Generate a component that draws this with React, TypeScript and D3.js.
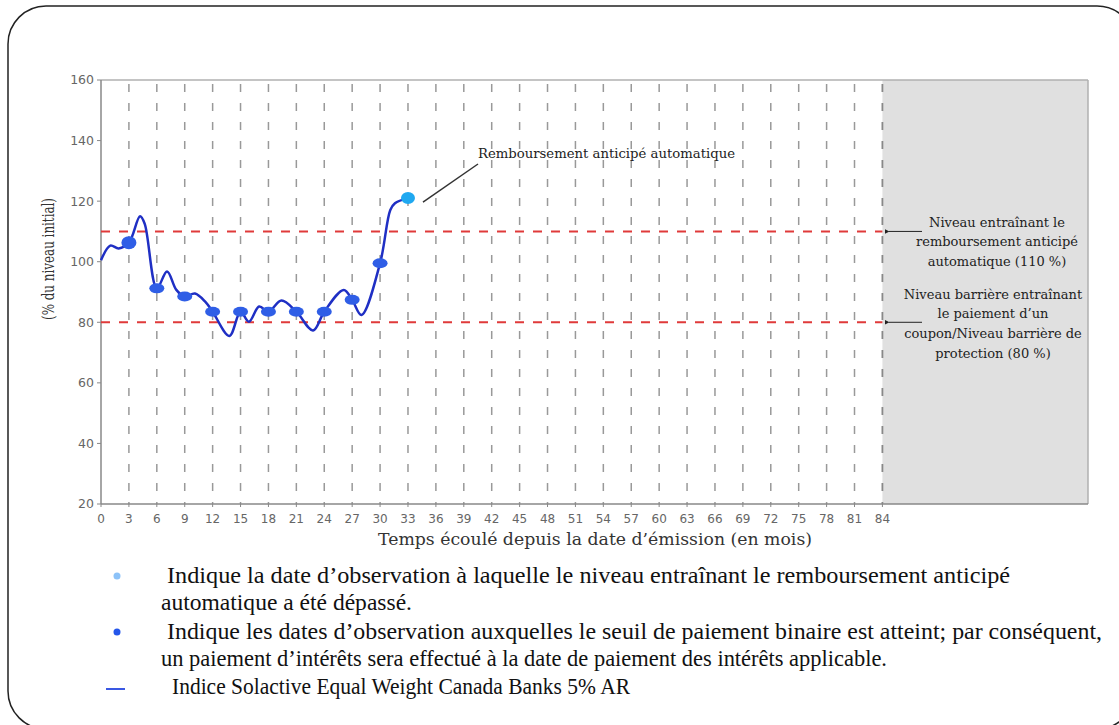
import React from "react";
import * as d3 from "d3";

const lineMonths = [0, 1.0, 1.9, 3, 4.2, 4.7, 6, 7.1, 8.1, 9, 10.1, 11.2, 12, 13.8, 15, 15.9, 17.0, 18, 19.4, 21, 22.8, 24, 26.1, 27, 28.0, 30, 31.1, 31.6, 33];
const lineValues = [100.5, 105.3, 104.4, 106.3, 115, 112.5, 91.2, 96.8, 90.7, 88.5, 89.5, 86.8, 83.5, 75.5, 83.5, 80.2, 85.2, 83.5, 87.2, 83.5, 77.3, 83.5, 90.7, 87.4, 82.4, 99.5, 117.1, 119.3, 121];

const obsMonths = [3, 6, 9, 12, 15, 18, 21, 24, 27, 30];
const obsValues = [106.3, 91.2, 88.5, 83.5, 83.5, 83.5, 83.5, 83.5, 87.4, 99.5];
const autocallMonth = 33;
const autocallValue = 121;

const yTicks = [20, 40, 60, 80, 100, 120, 140, 160];
const xTicks = d3.range(0, 85, 3);
const gridMonths = d3.range(3, 85, 3);
const autocallLevel = 110;
const barrierLevel = 80;
const maturity = 84;

const annTop = ["Niveau entraînant le", "remboursement anticipé", "automatique (110 %)"];
const annBottom = ["Niveau barrière entraînant", "le paiement d’un", "coupon/Niveau barrière de", "protection (80 %)"];

const legend1 = ["Indique la date d’observation à laquelle le niveau entraînant le remboursement anticipé", "automatique a été dépassé."];
const legend2 = ["Indique les dates d’observation auxquelles le seuil de paiement binaire est atteint; par conséquent,", "un paiement d’intérêts sera effectué à la date de paiement des intérêts applicable."];
const legend3 = "Indice Solactive Equal Weight Canada Banks 5% AR";

export default function App() {
  const x = d3.scaleLinear().domain([0, 106.1]).range([101, 1088]);
  const y = d3.scaleLinear().domain([20, 160]).range([504, 80]);
  const pts: [number, number][] = lineMonths.map((m, i) => [m, lineValues[i]]);
  const line = d3
    .line<[number, number]>()
    .x((d) => x(d[0]))
    .y((d) => y(d[1]))
    .curve(d3.curveCatmullRom.alpha(0.5));
  const serif = "DejaVu Serif";
  const sans = "DejaVu Sans";
  const times = "Liberation Serif";
  const x0 = x(0), x84 = x(maturity), xR = x.range()[1];
  const yT = y(160), yB = y(20);

  return (
    <svg width={1119} height={725} style={{ position: "absolute", left: 0, top: 0 }}>
      <rect x={0} y={0} width={1119} height={725} fill="#fff" />
      <rect x={8} y={6} width={1127} height={723} rx={38} ry={38} fill="none" stroke="#222" strokeWidth={1.5} />

      {/* grey region after maturity */}
      <rect x={x84} y={yT} width={xR - x84} height={yB - yT} fill="#e0e0e0" />
      <line x1={x0} x2={xR} y1={yT} y2={yT} stroke="#b0b0b0" strokeWidth={1.5} />
      <line x1={xR} x2={xR} y1={yT} y2={yB} stroke="#b0b0b0" strokeWidth={1.5} />

      {/* vertical dashed grid */}
      {gridMonths.map((m) => (
        <line key={m} x1={x(m)} x2={x(m)} y1={yT + 4} y2={yB} stroke={m === maturity ? "#888" : "#999"} strokeWidth={m === maturity ? 1.8 : 1.5} strokeDasharray="8 11" />
      ))}

      {/* axes */}
      <line x1={x0} x2={x0} y1={yT} y2={yB} stroke="#888" strokeWidth={1.5} />
      <line x1={x0} x2={xR} y1={yB} y2={yB} stroke="#888" strokeWidth={1.5} />
      {yTicks.map((t) => (
        <g key={t}>
          <line x1={x0 - 4} x2={x0} y1={y(t)} y2={y(t)} stroke="#888" />
          <text x={x0 - 7} y={y(t)} dy="0.35em" textAnchor="end" fontFamily={sans} fontSize={12.5} fill="#666">{t}</text>
        </g>
      ))}
      {xTicks.map((t) => (
        <g key={t}>
          <line x1={x(t)} x2={x(t)} y1={yB} y2={yB + 3} stroke="#888" />
          <text x={x(t)} y={yB + 15} dy="0.35em" textAnchor="middle" fontFamily={sans} fontSize={12} fill="#666">{t}</text>
        </g>
      ))}

      {/* level lines */}
      <line x1={x0} x2={x84} y1={y(autocallLevel)} y2={y(autocallLevel)} stroke="#e03a3a" strokeWidth={2} strokeDasharray="9 9" />
      <line x1={x0} x2={x84} y1={y(barrierLevel)} y2={y(barrierLevel)} stroke="#e03a3a" strokeWidth={2} strokeDasharray="9 9" />

      {/* index line */}
      <path d={line(pts) || ""} fill="none" stroke="#1f2fc4" strokeWidth={2.5} />
      {obsMonths.map((m, i) => (
        <ellipse key={m} cx={x(m)} cy={y(obsValues[i])} rx={7.5} ry={i === 0 ? 6.5 : 5} fill="#2f5ee6" />
      ))}
      <ellipse cx={x(autocallMonth)} cy={y(autocallValue)} rx={7} ry={6} fill="#1fa8f0" />

      {/* annotation autocall */}
      <line x1={x(autocallMonth) + 15} y1={y(autocallValue) + 4} x2={478} y2={164} stroke="#333" strokeWidth={1.5} />
      <text x={478} y={158} fontFamily={serif} fontSize={13.5} textLength={257} lengthAdjust="spacingAndGlyphs" fill="#222">Remboursement anticipé automatique</text>

      {/* right annotations */}
      <defs>
        <marker id="arr" viewBox="0 0 10 10" refX={1} refY={5} markerWidth={5} markerHeight={5} orient="auto-start-reverse">
          <path d="M10,0 L0,5 L10,10 z" fill="#222" />
        </marker>
      </defs>
      <line x1={922} x2={889} y1={y(autocallLevel)} y2={y(autocallLevel)} stroke="#222" strokeWidth={1} markerEnd="url(#arr)" />
      <line x1={922} x2={889} y1={y(barrierLevel)} y2={y(barrierLevel)} stroke="#222" strokeWidth={1} markerEnd="url(#arr)" />
      {annTop.map((s, i) => (
        <text key={s} x={997} y={222 + i * 19.5} dy="0.35em" textAnchor="middle" fontFamily={serif} fontSize={13} fill="#222">{s}</text>
      ))}
      {annBottom.map((s, i) => (
        <text key={s} x={993} y={294 + i * 19.8} dy="0.35em" textAnchor="middle" fontFamily={serif} fontSize={13} fill="#222">{s}</text>
      ))}

      {/* axis titles */}
      <text transform={`translate(54,259) rotate(-90)`} textAnchor="middle" fontFamily={serif} fontSize={16.5} textLength={122} lengthAdjust="spacingAndGlyphs" fill="#333">(% du niveau initial)</text>
      <text x={595} y={545} textAnchor="middle" fontFamily={serif} fontSize={17} textLength={434} lengthAdjust="spacingAndGlyphs" fill="#333">Temps écoulé depuis la date d’émission (en mois)</text>

      {/* legend */}
      <circle cx={117} cy={576} r={3.5} fill="#8cc2f8" />
      <text x={167} y={583} fontFamily={times} fontSize={24} textLength={843} lengthAdjust="spacingAndGlyphs" fill="#111">{legend1[0]}</text>
      <text x={161} y={610} fontFamily={times} fontSize={24} textLength={251} lengthAdjust="spacingAndGlyphs" fill="#111">{legend1[1]}</text>
      <circle cx={117} cy={632} r={3.5} fill="#2456ea" />
      <text x={167} y={639} fontFamily={times} fontSize={24} textLength={935} lengthAdjust="spacingAndGlyphs" fill="#111">{legend2[0]}</text>
      <text x={161} y={666} fontFamily={times} fontSize={24} textLength={726} lengthAdjust="spacingAndGlyphs" fill="#111">{legend2[1]}</text>
      <line x1={106} x2={125} y1={689} y2={689} stroke="#2446e0" strokeWidth={1.8} />
      <text x={172} y={694} fontFamily={times} fontSize={24} textLength={458} lengthAdjust="spacingAndGlyphs" fill="#111">{legend3}</text>
    </svg>
  );
}
